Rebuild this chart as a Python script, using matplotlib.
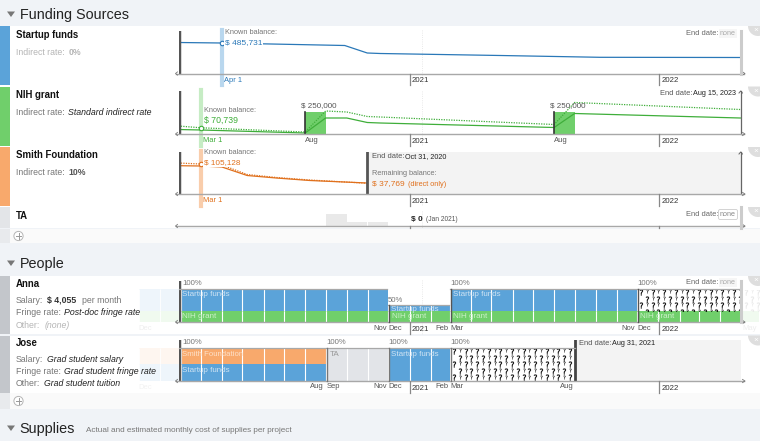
import numpy as np
import pandas as pd
import matplotlib
matplotlib.use("Agg")
import matplotlib.pyplot as plt
import matplotlib.dates as mdates
from matplotlib.patches import Rectangle, Wedge, Circle, Polygon

plt.rcParams['font.family'] = ['Liberation Sans', 'DejaVu Sans']

W, H = 760, 441
BLUE, GREEN, ORANGE = '#5ba3d9', '#70cf6b', '#f8a96c'
DBLUE, DGREEN, DORANGE = '#2a78b8', '#3fae3a', '#e0701c'

# balances, dollars
startup_dates = ['2020-01-28', '2020-04-01', '2020-09-28', '2020-10-31', '2020-11-19', '2021-05-14', '2021-10-07', '2022-05-01']
startup_bal = [493700, 485731, 445900, 326500, 318500, 286700, 258000, 254800]

nih_dates = ['2020-01-28', '2020-03-01', '2020-08-01', '2020-08-31', '2020-10-01', '2020-10-31', '2020-11-19', '2021-08-01', '2021-08-31', '2022-05-01']
nih_direct = [51100, 45500, 11400, 181800, 181800, 130700, 125000, 73900, 233000, 181800]
nih_total = [90900, 70739, 22700, 261400, 250000, 198900, 193200, 108000, 358000, 278400]

smith_dates = ['2020-01-28', '2020-03-01', '2020-04-01', '2020-05-08', '2020-06-20', '2020-08-08', '2020-10-31']
smith_direct = [99200, 98100, 94600, 64800, 56000, 47300, 38500]
smith_total = [108600, 105128, 101600, 68300, 57800, 49000, 37769]

nih_awards = ['2020-08-01', '2021-08-01']
nih_award_amount = 250000

ta_months = ['2020-09-01', '2020-10-01', '2020-11-01']
ta_heights = [12, 4, 4]

# effort blocks: start, end, percent
anna_startup = [('2019-12-01', '2020-12-01', 67), ('2020-12-01', '2021-03-01', 17), ('2021-03-01', '2021-12-01', 67)]
anna_nih = [('2019-12-01', '2022-05-01', 33)]
jose_smith = [('2019-12-01', '2020-09-01', 50)]
jose_startup = [('2019-12-01', '2020-09-01', 50), ('2020-12-01', '2021-03-01', 100)]
jose_ta = [('2020-09-01', '2020-12-01', 100)]

x0 = mdates.date2num(pd.Timestamp('2021-01-01'))
xlim = (x0 - 338, x0 + 486)


def dn(d):
    return mdates.date2num(pd.to_datetime(d))


fig = plt.figure(figsize=(W / 100, H / 100), dpi=100, facecolor='#f0f3f7')


def pix_ax(z):
    a = fig.add_axes([0, 0, 1, 1], zorder=z)
    a.set_xlim(0, W)
    a.set_ylim(H, 0)
    a.axis('off')
    a.patch.set_alpha(0)
    return a


bg = pix_ax(0)
top = pix_ax(5)


def chart_ax(y_top, y_base, ymax):
    a = fig.add_axes([179 / W, 1 - y_base / H, 562 / W, (y_base - y_top) / H], zorder=2)
    a.set_xlim(*xlim)
    a.set_ylim(0, ymax)
    a.axis('off')
    a.patch.set_alpha(0)
    return a


# row backgrounds
rows = [(26, 85, BLUE), (86.5, 146, GREEN), (147, 206, ORANGE), (207, 228, '#e3e5e8'),
        (276, 334, '#c3c6cb'), (335.5, 393, '#c3c6cb')]
for y0, y1, c in rows:
    bg.add_patch(Rectangle((0, y0), W, y1 - y0, fc='white', lw=0))
    bg.add_patch(Rectangle((0, y0), 10, y1 - y0, fc=c, lw=0))
    top.add_patch(Wedge((758, y0), 10, 0, 180, fc='#dedede', lw=0))
    top.text(755.5, y0 + 4.5, '×', fontsize=6, color='white', ha='center', va='center')
    # today marker
    bg.plot([421.5, 421.5], [y0 + 4, y1 if y0 < 330 else 340], color='#e2e2e2', lw=0.6, ls=':')
bg.add_patch(Rectangle((0, 85), W, 1.5, fc='white', lw=0))
bg.add_patch(Rectangle((0, 146), W, 1, fc='white', lw=0))
bg.add_patch(Rectangle((0, 206), W, 1, fc='white', lw=0))
for y0, y1 in [(229, 243), (393, 409)]:
    bg.add_patch(Rectangle((0, y0), W, y1 - y0, fc='#fafafa', lw=0))
    bg.add_patch(Rectangle((0, y0), 10, y1 - y0, fc='#e8eaed', lw=0))
    yc = (y0 + y1) / 2
    top.add_patch(Circle((18.5, yc), 4.6, fc='white', ec='#b5b5b5', lw=0.7))
    top.plot([15.8, 21.2], [yc, yc], color='#999999', lw=0.7)
    top.plot([18.5, 18.5], [yc - 2.7, yc + 2.7], color='#999999', lw=0.7)

# section headers
for label, yc in [('Funding Sources', 14), ('People', 263), ('Supplies', 428)]:
    top.add_patch(Polygon([(7, yc - 2.5), (15, yc - 2.5), (11, yc + 3)], fc='#777777', lw=0))
    top.text(19.5, yc + 0.7, label, fontsize=10.4, color='#222222', va='center')
top.text(86, 431, 'Actual and estimated monthly cost of supplies per project', fontsize=5.85, color='#777777', va='center')

# baselines, year ticks and arrow heads
for y_base, y_low in [(73.5, 85), (134, 146), (194, 206), (226, 228), (322, 334), (381, 393)]:
    c = '#a8a8a8'
    top.plot([176, 744], [y_base, y_base], color=c, lw=1, zorder=1)
    top.plot([177.5, 175.5, 177.5], [y_base - 1.6, y_base, y_base + 1.6], color='#777777', lw=0.6)
    top.plot([742.5, 745, 742.5], [y_base - 1.6, y_base, y_base + 1.6], color='#777777', lw=0.6)
    for xt in (409.5, 658.5):
        top.plot([xt, xt], [y_base, y_low], color='#888888', lw=0.9)
    if y_low - y_base > 5:
        top.text(412, y_low - 4.5, '2021', fontsize=5.6, color='#333333', va='center')
        top.text(661.5, y_low - 4.5, '2022', fontsize=5.6, color='#333333', va='center')

# Startup funds
ax1 = chart_ax(31, 73.5, 676800)
ax1.axvline(dn('2020-04-01'), -0.27, 1.03, color='#b9d7ee', lw=3, clip_on=False, zorder=1)
ax1.plot(pd.to_datetime(startup_dates), startup_bal, color=DBLUE, lw=0.9, zorder=2)
ax1.plot(dn('2020-04-01'), 485731, 'o', ms=3.2, mfc='white', mec=DBLUE, mew=0.8, zorder=3)

# NIH grant
ax2 = chart_ax(91, 134, 488636)
ax2.axvline(dn('2020-03-01'), -0.28, 1.03, color='#c6ecc4', lw=3, clip_on=False, zorder=1)
for d in nih_awards:
    ax2.bar(dn(d), nih_award_amount, width=30, align='edge', color=GREEN, zorder=1)
    ax2.axvline(dn(d), 0, nih_award_amount / 488636, color='#333333', lw=1.2, zorder=3)
ax2.plot(pd.to_datetime(nih_dates), nih_direct, color=DGREEN, lw=0.9, zorder=2)
ax2.plot(pd.to_datetime(nih_dates), nih_total, color=DGREEN, lw=0.9, ls=(0, (1, 1)), zorder=2)
ax2.plot(dn('2020-03-01'), 70739, 'o', ms=3.2, mfc='white', mec=DGREEN, mew=0.8, zorder=3)
ax2.axvline(xlim[1], 0, 1, color='#666666', lw=0.9, clip_on=False)

# Smith Foundation
ax3 = chart_ax(152, 194, 147180)
ax3.axvspan(dn('2020-10-31'), xlim[1], color='#f3f3f3', lw=0, zorder=0)
ax3.axvline(dn('2020-03-01'), -0.29, 1.03, color='#f9cdab', lw=3, clip_on=False, zorder=1)
ax3.axvline(dn('2020-10-31'), 0, 1, color='#555555', lw=2, zorder=3)
ax3.plot(pd.to_datetime(smith_dates), smith_direct, color=DORANGE, lw=0.9, zorder=2)
ax3.plot(pd.to_datetime(smith_dates), smith_total, color=DORANGE, lw=0.9, ls=(0, (1, 1)), zorder=2)
ax3.plot(dn('2020-03-01'), 105128, 'o', ms=3.2, mfc='white', mec=DORANGE, mew=0.8, zorder=3)
ax3.axvline(xlim[1], 0, 1, color='#666666', lw=0.9, clip_on=False)

# TA
ax4 = chart_ax(207, 226, 19)
ax4.bar(pd.to_datetime(ta_months), ta_heights, width=30, align='edge', color='#e9e9e9')

for yt in (91, 152):
    top.plot([739, 740.7, 742.4], [yt + 2, yt, yt + 2], color='#666666', lw=0.7)


def effort(a, blocks, bottom, color):
    # one cell per month, faint outside of the chart range
    for start, end, pct in blocks:
        edges = pd.date_range(start, end, freq='MS')
        for e0, e1 in zip(edges[:-1], edges[1:]):
            xa, xb = dn(e0), dn(e1)
            if xa < xlim[0]:
                cut = min(xb, xlim[0])
                a.bar(xa, pct, width=cut - xa, bottom=bottom, align='edge', color=color, lw=0,
                      alpha=0.1, clip_on=False, zorder=1)
                a.vlines(xa, bottom, bottom + pct, color='white', lw=0.6, clip_on=False, zorder=1)
                xa = cut
            if xb > xa:
                a.bar(xa, pct, width=xb - xa, bottom=bottom, align='edge', color=color, lw=0,
                      clip_on=False, zorder=1)
                a.vlines(xa, bottom, bottom + pct, color='white', lw=0.8, clip_on=False, zorder=2)


def question_block(y0, y1, x_a, x_b, color='black'):
    # big and small question marks, staggered from row to row
    big_x, big_y, small_x, small_y = [], [], [], []
    for j, yy in enumerate(np.arange(y0 + 2.5, y1 + 2, 6.6)):
        for xx in np.arange(x_a + 3 + (j % 2) * 5.8, x_b, 11.6):
            big_x.append(xx)
            big_y.append(yy)
            small_x.append(xx + 5.8)
            small_y.append(yy - 0.8)
    clip = Rectangle((x_a, y0), x_b - x_a, y1 - y0, transform=top.transData)
    pts = top.scatter(big_x, big_y, marker='$?$', s=17, c=color, lw=0.2, zorder=2)
    pts.set_clip_path(clip)
    pts = top.scatter(small_x, small_y, marker='$?$', s=7, c=color, lw=0.1, zorder=2)
    pts.set_clip_path(clip)


# Anna
ax5 = chart_ax(281, 322, 124)
effort(ax5, anna_nih, 0, GREEN)
effort(ax5, anna_startup, 33, BLUE)
ax5.bar(dn('2022-05-01'), 33, width=28, align='edge', color=GREEN, lw=0, alpha=0.1, clip_on=False)
ax5.axvline(xlim[0], 0, 1, color='#555555', lw=2.5, zorder=4)
question_block(289.5, 310.5, 638, 740)
question_block(289.5, 310.5, 743, 760, color='#e8e8e8')
for xa, xb, yy in [(179, 387, 289), (388, 449, 305), (450, 741, 289)]:
    top.plot([xa, xb], [yy, yy], color='#a8a8a8', lw=0.9, zorder=1)
for xv, yv in [(388.5, 305), (450.5, 289), (638, 289)]:
    top.plot([xv, xv], [yv, 322], color='#555555', lw=1)

# Jose
ax6 = chart_ax(340, 381, 124)
effort(ax6, jose_startup, 0, BLUE)
effort(ax6, jose_smith, 50, ORANGE)
effort(ax6, jose_ta, 0, '#e2e4e8')
ax6.axvspan(dn('2021-08-31'), xlim[1], color='#f3f3f3', lw=0, zorder=0)
ax6.axvline(xlim[0], 0, 1, color='#555555', lw=2.5, zorder=4)
ax6.axvline(dn('2021-08-31'), 0, 1, color='#444444', lw=2, zorder=4)
question_block(348.5, 380.5, 451, 574)
top.plot([179, 575], [348, 348], color='#a8a8a8', lw=0.9, zorder=1)
for xv in (327, 389, 451):
    top.plot([xv, xv], [348, 381], color='#777777', lw=1)

# end-of-row bars
for yt, yb in [(31, 73.5), (207, 228), (281, 322)]:
    top.plot([740.8, 740.8], [yt, yb], color='#cccccc', lw=2.2)
ax1.axvline(xlim[0], 0, 1, color='#555555', lw=2.5, zorder=4)
ax2.axvline(xlim[0], 0, 1, color='#555555', lw=2.5, zorder=4)
ax3.axvline(xlim[0], 0, 1, color='#555555', lw=2.5, zorder=4)


def t(x, y, s, size=6.3, color='#333333', **kw):
    kw.setdefault('va', 'center')
    return top.text(x, y, s, fontsize=size, color=color, **kw)


# left labels
for y, s in [(35.5, 'Startup funds'), (95.5, 'NIH grant'), (155.5, 'Smith Foundation'), (216, 'TA'), (284, 'Anna'), (343.5, 'Jose')]:
    t(16, y, s, size=6.9, color='#111111', fontweight='bold')
t(16, 52.5, 'Indirect rate:', size=6.3, color='#b5b5b5')
t(68.5, 52.5, '0%', size=6.3, color='#b5b5b5', fontweight='bold')
t(16, 112.5, 'Indirect rate:', color='#777777')
t(68.5, 112.5, 'Standard indirect rate', color='#222222', style='italic')
t(16, 172.5, 'Indirect rate:', color='#777777')
t(68.5, 172.5, '10%', color='#555555', fontweight='bold')

t(16, 300.5, 'Salary:', color='#777777')
t(47, 300.5, '$ 4,055', color='#333333', fontweight='bold')
t(81.5, 300.5, 'per month', color='#777777')
t(16, 312.5, 'Fringe rate:', color='#777777')
t(64, 312.5, 'Post-doc fringe rate', color='#222222', style='italic')
t(16, 325, 'Other:', color='#b5b5b5')
t(44.5, 325, '(none)', color='#b5b5b5', style='italic')

t(16, 359.5, 'Salary:', color='#777777')
t(47, 359.5, 'Grad student salary', color='#222222', style='italic')
t(16, 372, 'Fringe rate:', color='#777777')
t(64, 372, 'Grad student fringe rate', color='#222222', style='italic')
t(16, 384, 'Other:', color='#777777')
t(44.5, 384, 'Grad student tuition', color='#222222', style='italic')

# annotations
wb = dict(fc='white', ec='none', pad=0.6)
t(225, 32.5, 'Known balance:', size=5.3, color='#777777')
t(225, 43, '$ 485,731', size=6.0, color=DBLUE, bbox=wb)
t(224, 80, 'Apr 1', size=5.4, color=DBLUE)
t(203.5, 110.5, 'Known balance:', size=5.3, color='#777777')
t(203.5, 120.5, '$ 70,739', size=6.3, color=DGREEN)
t(203, 140, 'Mar 1', size=5.4, color=DGREEN)
t(203.5, 153, 'Known balance:', size=5.3, color='#777777')
t(204, 163, '$ 105,128', size=5.9, color=DORANGE, bbox=wb)
t(203, 200.5, 'Mar 1', size=5.4, color=DORANGE)
for xc in (319, 567.5):
    t(xc, 105.5, '$ 250,000', size=5.8, color='#555555', ha='center')
t(312, 140, 'Aug', size=5.5, color='#555555', ha='center')
t(560.5, 140, 'Aug', size=5.5, color='#555555', ha='center')

t(371.5, 156.5, 'End date:', size=5.4, color='#555555')
t(405, 156.5, 'Oct 31, 2020', size=5.2, color='#222222')
t(371.5, 173.5, 'Remaining balance:', size=5.3, color='#777777')
t(371.5, 184, '$ 37,769', size=6, color=DORANGE)
t(407.5, 184.5, '(direct only)', size=5.3, color=DORANGE)

t(686, 33.5, 'End date:', size=5.4, color='#666666')
t(720, 33.5, 'none', size=5.2, color='#aaaaaa', bbox=dict(fc='#f6f6f6', ec='none', pad=0.8))
t(660, 93.5, 'End date:', size=5.4, color='#555555')
t(693, 93.5, 'Aug 15, 2023', size=5.2, color='#222222')
t(686, 214, 'End date:', size=5.4, color='#666666')
t(720, 214.5, 'none', size=5.2, color='#888888',
  bbox=dict(boxstyle='round,pad=0.2', fc='white', ec='#cccccc', lw=0.6))
t(686, 282.5, 'End date:', size=5.4, color='#666666')
t(720, 282.5, 'none', size=5.2, color='#aaaaaa', bbox=dict(fc='#f6f6f6', ec='none', pad=0.8))
t(579, 343.5, 'End date:', size=5.4, color='#555555')
t(612, 343.5, 'Aug 31, 2021', size=5.2, color='#222222')
t(411, 219, '$ 0', size=6.0, color='#222222', fontweight='bold')
t(425.5, 219.5, '(Jan 2021)', size=4.8, color='#555555')

# bar labels
soft = '#cfe3f3'
t(182, 295, 'Startup funds', size=5.8, color=soft)
t(182, 316.5, 'NIH grant', size=5.8, color='#cdf0ca')
half = t(391, 309.5, 'Startup funds', size=5.8, color=soft)
half.set_clip_path(Rectangle((388, 305), 61, 6, transform=top.transData))
t(391.5, 316.5, 'NIH grant', size=5.8, color='#cdf0ca')
t(453, 295, 'Startup funds', size=5.8, color=soft)
t(453, 316.5, 'NIH grant', size=5.8, color='#cdf0ca')
t(640, 316.5, 'NIH grant', size=5.8, color='#cdf0ca')
t(182, 354, 'Smith Foundation', size=5.6, color='#fde0c8')
t(182, 370, 'Startup funds', size=5.8, color=soft)
t(330, 354, 'TA', size=5.8, color='#999999')
t(391, 354, 'Startup funds', size=5.8, color=soft)

for x, y, s in [(182, 283.5, '100%'), (388, 300, '50%'), (450, 283.5, '100%'), (637, 283.5, '100%'),
                (182, 342.5, '100%'), (326, 342.5, '100%'), (388.5, 342.5, '100%'), (450, 342.5, '100%')]:
    t(x, y, s, size=5.6, color='#777777')

# month labels
for x, y, s in [(380, 328, 'Nov'), (395, 328, 'Dec'), (442, 328, 'Feb'), (457, 328, 'Mar'),
                (628, 328, 'Nov'), (644, 328, 'Dec'), (317, 387, 'Aug'), (333, 387, 'Sep'),
                (380, 387, 'Nov'), (395, 387, 'Dec'), (442, 387, 'Feb'), (457, 387, 'Mar'), (566.5, 387, 'Aug')]:
    t(x, y, s, size=5.5, color='#555555', ha='center')
t(145, 328, 'Dec', size=5.5, color='#eeeeee', ha='center')
t(145, 387.5, 'Dec', size=5.5, color='#f2f2f2', ha='center')
t(750, 328.5, 'May', size=5.5, color='#eeeeee', ha='center')

fig.savefig('out.png', dpi=100)
